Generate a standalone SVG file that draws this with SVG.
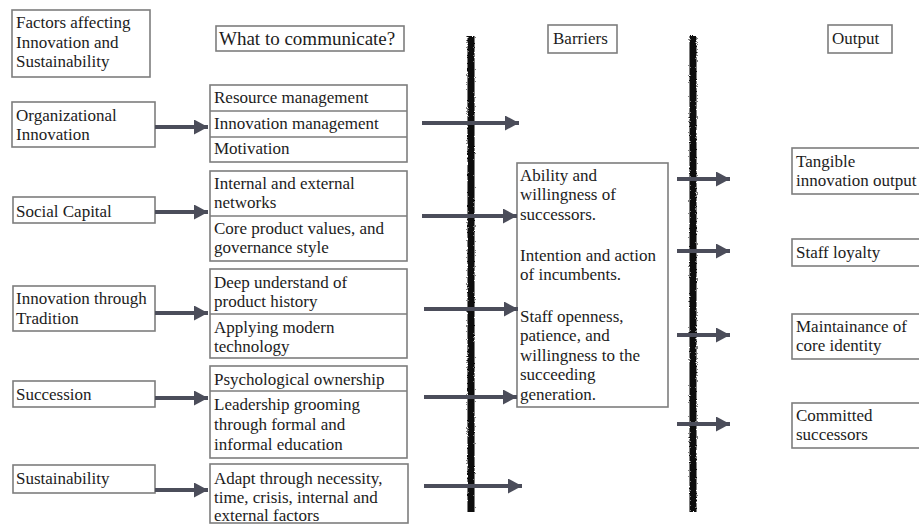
<svg xmlns="http://www.w3.org/2000/svg" width="919" height="525" viewBox="0 0 919 525">
  <style>
    text { font-size: 17px; fill: #1c1c1c; }
    .big { font-size: 19px; }
    .box { fill: #ffffff; stroke: #7d7d7d; stroke-width: 1.6; }
    .div { stroke: #7d7d7d; stroke-width: 1.6; }
    .arrow { stroke: #4b4d5a; stroke-width: 4; fill: none; marker-end: url(#head); }
    .wall { fill: #0d0d0d; filter: url(#rough); }
  </style>
  <defs>
    <marker id="head" markerUnits="userSpaceOnUse" markerWidth="15" markerHeight="16" refX="14" refY="7.5" orient="auto">
      <path d="M0,0 L14,7.5 L0,15 z" fill="#4b4d5a"/>
    </marker>
    <!-- ragged edge for the two barrier walls -->
    <filter id="rough" filterUnits="userSpaceOnUse" x="0" y="0" width="919" height="525">
      <feTurbulence type="fractalNoise" baseFrequency="0.8" numOctaves="2" seed="3" result="n"/>
      <feDisplacementMap in="SourceGraphic" in2="n" scale="3" xChannelSelector="R" yChannelSelector="G"/>
    </filter>
  </defs>

  <g font-family="'Liberation Serif', 'Times New Roman', 'DejaVu Serif', serif">
  <!-- column headers -->
  <g id="hdr-factors">
    <rect class="box" x="12" y="10" width="138" height="67"/>
    <text x="16" y="28">Factors affecting</text>
    <text x="16" y="48">Innovation and</text>
    <text x="16" y="67">Sustainability</text>
  </g>
  <g id="hdr-communicate">
    <rect class="box" x="216" y="26" width="188" height="25"/>
    <text class="big" x="219" y="45">What to communicate?</text>
  </g>
  <g id="hdr-barriers">
    <rect class="box" x="548" y="25" width="69" height="28"/>
    <text x="553" y="44">Barriers</text>
  </g>
  <g id="hdr-output">
    <rect class="box" x="828" y="25" width="64" height="28"/>
    <text x="832" y="44">Output</text>
  </g>

  <!-- barrier walls -->
  <g id="walls">
    <rect class="wall" x="467.5" y="36" width="7" height="476"/>
    <rect class="wall" x="689.5" y="36" width="7" height="476"/>
  </g>

  <!-- factors -->
  <g id="f-org">
    <rect class="box" x="12" y="102" width="143" height="45"/>
    <text x="16" y="121">Organizational</text>
    <text x="16" y="140">Innovation</text>
  </g>
  <g id="f-social">
    <rect class="box" x="13" y="197" width="142" height="26"/>
    <text x="16" y="217">Social Capital</text>
  </g>
  <g id="f-tradition">
    <rect class="box" x="13" y="286" width="142" height="45"/>
    <text x="16" y="304">Innovation through</text>
    <text x="16" y="324">Tradition</text>
  </g>
  <g id="f-succession">
    <rect class="box" x="13" y="381" width="142" height="26"/>
    <text x="16" y="400">Succession</text>
  </g>
  <g id="f-sustain">
    <rect class="box" x="13" y="465" width="142" height="28"/>
    <text x="16" y="484">Sustainability</text>
  </g>

  <!-- what to communicate -->
  <g id="c-org">
    <rect class="box" x="210" y="85" width="197" height="77"/>
    <line class="div" x1="210" y1="111" x2="407" y2="111"/>
    <line class="div" x1="210" y1="137" x2="407" y2="137"/>
    <text x="214" y="103">Resource management</text>
    <text x="214" y="129">Innovation management</text>
    <text x="214" y="154">Motivation</text>
  </g>
  <g id="c-social">
    <rect class="box" x="210" y="171" width="197" height="90"/>
    <line class="div" x1="210" y1="216" x2="407" y2="216"/>
    <text x="214" y="189">Internal and external</text>
    <text x="214" y="208">networks</text>
    <text x="214" y="234">Core product values, and</text>
    <text x="214" y="253">governance style</text>
  </g>
  <g id="c-tradition">
    <rect class="box" x="210" y="269" width="197" height="89"/>
    <line class="div" x1="210" y1="314" x2="407" y2="314"/>
    <text x="214" y="288">Deep understand of</text>
    <text x="214" y="307">product history</text>
    <text x="214" y="333">Applying modern</text>
    <text x="214" y="352">technology</text>
  </g>
  <g id="c-succession">
    <rect class="box" x="210" y="366" width="197" height="92"/>
    <line class="div" x1="210" y1="391" x2="407" y2="391"/>
    <text x="214" y="385">Psychological ownership</text>
    <text x="214" y="410">Leadership grooming</text>
    <text x="214" y="430">through formal and</text>
    <text x="214" y="450">informal education</text>
  </g>
  <g id="c-sustain">
    <rect class="box" x="210" y="464" width="198" height="59"/>
    <text x="214" y="484">Adapt through necessity,</text>
    <text x="214" y="503">time, crisis, internal and</text>
    <text x="214" y="521">external factors</text>
  </g>

  <!-- barriers -->
  <g id="barriers">
    <rect class="box" x="517" y="163" width="151" height="244"/>
    <text x="520" y="181">Ability and</text>
    <text x="520" y="200">willingness of</text>
    <text x="520" y="220">successors.</text>
    <text x="520" y="261">Intention and action</text>
    <text x="520" y="280">of incumbents.</text>
    <text x="520" y="322">Staff openness,</text>
    <text x="520" y="341">patience, and</text>
    <text x="520" y="361">willingness to the</text>
    <text x="520" y="380">succeeding</text>
    <text x="520" y="400">generation.</text>
  </g>

  <!-- outputs -->
  <g id="o-tangible">
    <rect class="box" x="792" y="148" width="135" height="46"/>
    <text x="796" y="167">Tangible</text>
    <text x="796" y="186">innovation output</text>
  </g>
  <g id="o-loyalty">
    <rect class="box" x="792" y="239" width="135" height="27"/>
    <text x="796" y="258">Staff loyalty</text>
  </g>
  <g id="o-identity">
    <rect class="box" x="792" y="314" width="135" height="45"/>
    <text x="796" y="332">Maintainance of</text>
    <text x="796" y="351">core identity</text>
  </g>
  <g id="o-successors">
    <rect class="box" x="792" y="403" width="135" height="45"/>
    <text x="796" y="421">Committed</text>
    <text x="796" y="440">successors</text>
  </g>
  </g>

  <!-- connectors -->
  <g id="connectors">
    <line class="arrow" x1="155" y1="127" x2="208" y2="127"/>
    <line class="arrow" x1="155" y1="212" x2="208" y2="212"/>
    <line class="arrow" x1="155" y1="313" x2="208" y2="313"/>
    <line class="arrow" x1="155" y1="398" x2="208" y2="398"/>
    <line class="arrow" x1="155" y1="490" x2="208" y2="490"/>

    <line class="arrow" x1="422" y1="123" x2="519" y2="123"/>
    <line class="arrow" x1="422" y1="216" x2="517" y2="216"/>
    <line class="arrow" x1="424" y1="309" x2="518" y2="309"/>
    <line class="arrow" x1="424" y1="397" x2="517" y2="397"/>
    <line class="arrow" x1="424" y1="486" x2="522" y2="486"/>

    <line class="arrow" x1="677" y1="179" x2="730" y2="179"/>
    <line class="arrow" x1="677" y1="251" x2="730" y2="251"/>
    <line class="arrow" x1="677" y1="335" x2="730" y2="335"/>
    <line class="arrow" x1="677" y1="424" x2="730" y2="424"/>
  </g>
</svg>
